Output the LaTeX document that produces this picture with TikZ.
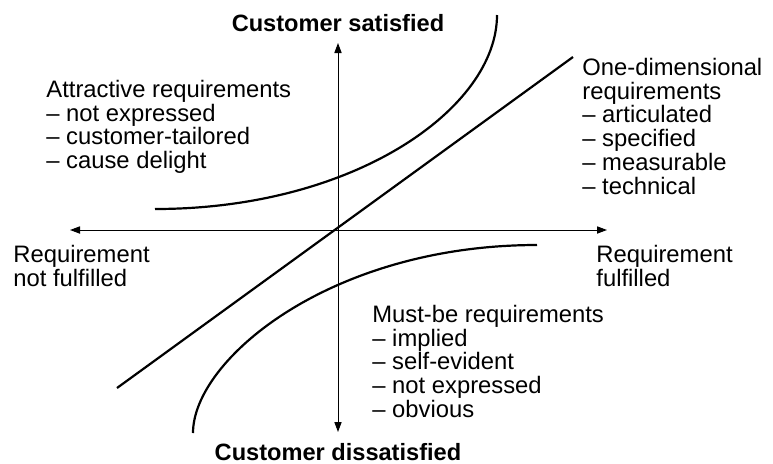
\documentclass[tikz,border=0pt]{standalone}
\usepackage{fontspec}
\setmainfont{Liberation Sans}
\usetikzlibrary{arrows.meta}
\tikzset{
    axis/.style={black, line width=0.5pt, {Triangle[length=5pt,width=3.6pt]}-{Triangle[length=5pt,width=3.6pt]}},
    curve/.style={black, line width=1.1pt},
    reqtext/.style={inner sep=0pt, align=left, anchor=north west, font=\fontsize{11.9}{11.85}\selectfont},
    axistitle/.style={inner sep=0pt, anchor=base, font=\fontsize{11.8}{11.85}\selectfont\bfseries}
}
\begin{document}
\begin{tikzpicture}[x=0.5pt, y=-0.5pt]
        \useasboundingbox (0,0) rectangle (773,463);

        % axes
        \coordinate (xl) at (70,230);
        \coordinate (xr) at (607,230);
        \coordinate (yt) at (338,43);
        \coordinate (yb) at (338,432);
        \draw[axis] (xl) -- (xr);
        \draw[axis] (yb) -- (yt);

        % one-dimensional
        \coordinate (linelo) at (117,388);
        \coordinate (linehi) at (573,57);
        \draw[curve] (linelo) -- (linehi);

        % attractive
        \coordinate (attrlo) at (155,209);
        \coordinate (attrhi) at (497,15);
        \draw[curve] (attrlo) .. controls (355,209) and (497,108) .. (attrhi);

        % must-be
        \coordinate (mustlo) at (193,433);
        \coordinate (musthi) at (537,245);
        \draw[curve] (mustlo) .. controls (193,360) and (330,245) .. (musthi);

        \node[axistitle] (sat) at (338,31) {Customer satisfied};
        \node[axistitle] (dissat) at (338,460) {Customer dissatisfied};

        \node[reqtext] (notful) at (13,244.9) {Requirement\\not fulfilled};
        \node[reqtext] (ful) at (596,244.9) {Requirement\\fulfilled};

        \node[reqtext] (attr) at (46,79.9) {Attractive requirements\\-- not expressed\\-- customer-tailored\\-- cause delight};
        \node[reqtext] (onedim) at (582,57.9) {One-dimensional\\requirements\\-- articulated\\-- specified\\-- measurable\\-- technical};
        \node[reqtext] (must) at (372,304.9) {Must-be requirements\\-- implied\\-- self-evident\\-- not expressed\\-- obvious};
\end{tikzpicture}
\end{document}
